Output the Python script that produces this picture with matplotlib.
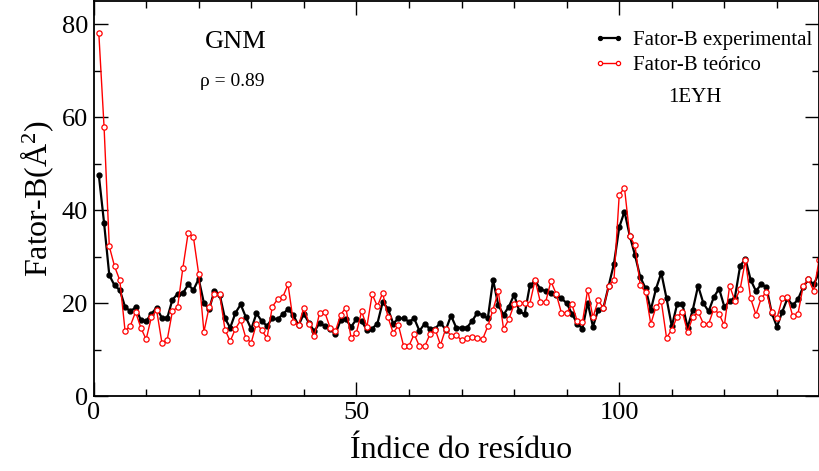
import numpy as np
import matplotlib
matplotlib.use("Agg")
import matplotlib.pyplot as plt
from matplotlib.ticker import MultipleLocator

plt.rcParams['font.family'] = ['Liberation Serif', 'DejaVu Serif']
plt.rcParams['mathtext.fontset'] = 'custom'
plt.rcParams['mathtext.rm'] = 'Liberation Serif'
plt.rcParams['mathtext.it'] = 'Liberation Serif:italic'

# fator-B experimental (preto) e teorico GNM (vermelho), residuos 1..138
b_exp = [47.6, 37.3, 26.0, 23.8, 22.8, 19.2, 18.2, 19.1, 16.3, 16.1,
         17.7, 19.0, 16.8, 16.7, 20.7, 22.0, 22.1, 24.0, 22.8, 25.2,
         20.0, 18.7, 22.7, 21.8, 16.7, 14.7, 17.9, 19.7, 16.9, 14.4,
         17.8, 16.1, 15.1, 16.7, 16.5, 17.6, 18.7, 17.4, 15.2, 17.7,
         15.7, 13.9, 15.7, 15.1, 14.5, 13.3, 16.3, 16.5, 14.9, 16.5,
         16.1, 14.2, 14.5, 15.6, 20.2, 18.8, 15.6, 16.7, 16.7, 16.0,
         16.7, 14.0, 15.6, 14.4, 14.5, 15.8, 14.2, 17.3, 14.7, 14.7,
         14.7, 16.1, 17.9, 17.4, 16.7, 25.0, 19.5, 17.5, 19.2, 21.8,
         18.2, 17.6, 23.8, 24.7, 23.1, 22.5, 22.1, 21.7, 21.0, 20.0,
         17.7, 15.6, 14.5, 20.1, 14.9, 18.6, 19.0, 23.7, 28.5, 36.3,
         39.7, 34.5, 30.3, 25.6, 23.2, 18.5, 23.1, 26.5, 21.0, 15.0,
         19.7, 19.9, 14.7, 18.6, 23.7, 20.0, 18.2, 21.3, 23.1, 19.2,
         20.4, 21.2, 28.0, 29.5, 25.0, 22.6, 24.0, 23.5, 17.9, 14.9,
         18.1, 21.0, 19.5, 20.8, 23.5, 25.1, 24.0, 26.5]

b_teo = [78.2, 58.0, 32.2, 27.9, 24.9, 14.0, 15.1, 18.1, 14.7, 12.2,
         16.9, 18.5, 11.5, 12.0, 18.2, 19.2, 27.6, 35.1, 34.2, 26.3,
         13.8, 19.2, 21.9, 21.9, 14.3, 11.8, 14.5, 16.3, 12.4, 11.5,
         15.6, 14.2, 12.4, 19.2, 20.8, 21.3, 24.0, 16.0, 15.2, 19.0,
         15.6, 12.9, 17.9, 18.0, 14.7, 13.9, 17.5, 19.0, 12.5, 13.6,
         18.2, 14.9, 21.9, 19.3, 22.2, 17.0, 13.6, 15.2, 10.7, 10.8,
         13.3, 10.7, 10.7, 13.3, 14.3, 11.0, 14.5, 12.9, 13.1, 12.0,
         12.4, 12.6, 12.4, 12.2, 15.0, 18.6, 22.5, 14.4, 16.5, 19.7,
         20.0, 20.0, 19.9, 25.0, 20.2, 20.2, 24.7, 22.0, 17.9, 17.9,
         19.7, 16.2, 15.9, 22.9, 16.9, 20.6, 18.9, 23.7, 25.0, 43.3,
         44.8, 34.4, 32.4, 23.8, 22.4, 15.5, 19.2, 20.4, 12.5, 14.3,
         17.0, 18.1, 13.8, 17.0, 18.1, 15.6, 15.5, 18.8, 17.6, 15.2,
         23.7, 20.5, 23.0, 29.2, 21.0, 17.5, 21.0, 22.4, 18.1, 16.7,
         21.0, 21.3, 17.2, 17.7, 23.7, 25.1, 22.6, 29.2]

residuos = np.arange(1, len(b_exp) + 1)

fig = plt.figure(figsize=(8.19, 4.71), dpi=100)
ax = fig.add_axes([0.1142, 0.1592, 0.8858, 0.8386])

ax.plot(residuos, b_exp, color='black', lw=1.6, marker='o', ms=3.5,
        mfc='black', mec='black', label='Fator-B experimental')
ax.plot(residuos, b_teo, color='red', lw=1.0, marker='o', ms=3.8,
        mfc='white', mec='red', mew=0.9, label='Fator-B teórico')

ax.set_xlim(0, 138)
ax.set_ylim(0, 85)
ax.xaxis.set_major_locator(MultipleLocator(50))
ax.xaxis.set_minor_locator(MultipleLocator(10))
ax.yaxis.set_major_locator(MultipleLocator(20))
ax.yaxis.set_minor_locator(MultipleLocator(10))
ax.tick_params(which='both', direction='in', top=True, right=True, width=1.0)
ax.tick_params(which='major', length=10, labelsize=19, pad=4)
ax.tick_params(which='minor', length=5)
for s in ax.spines.values():
    s.set_linewidth(1.3)

xl = ax.set_xlabel('Índice do resíduo', fontsize=23)
xl.set_va('baseline')
ax.xaxis.set_label_coords(0.506, -0.157)
ax.set_ylabel('Fator-B(Å$^2$)', fontsize=23, labelpad=4)

ax.text(0.196, 0.896, 'GNM', transform=ax.transAxes, fontsize=19,
        ha='center', va='center')
ax.text(0.191, 0.797, 'ρ = 0.89', transform=ax.transAxes, fontsize=14,
        ha='center', va='center')
ax.text(0.829, 0.757, '1EYH', transform=ax.transAxes, fontsize=15,
        ha='center', va='center')

ax.legend(loc='upper left', bbox_to_anchor=(0.689, 0.925), frameon=False,
          fontsize=15, numpoints=2, handlelength=1.5, handletextpad=0.4,
          borderpad=0, borderaxespad=0, labelspacing=0.25, markerscale=0.8)

fig.savefig('out.png', dpi=100)
